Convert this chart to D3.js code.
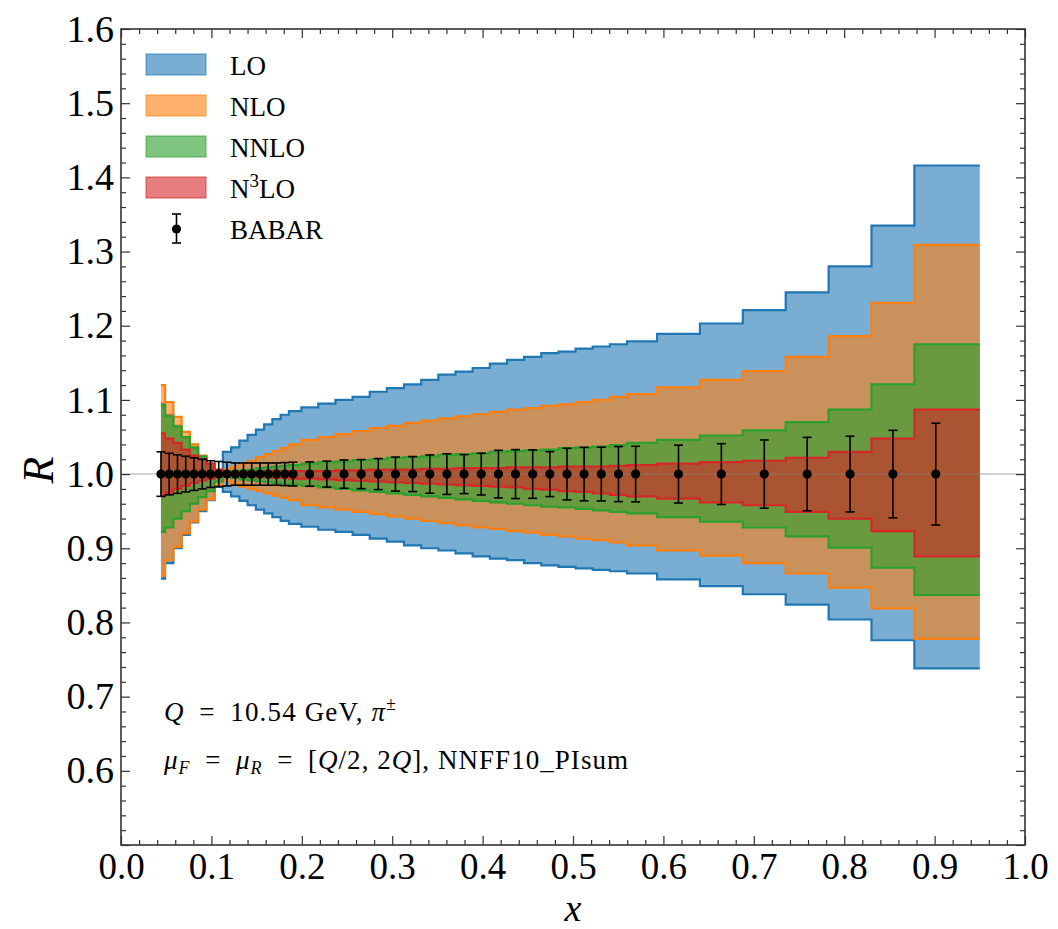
<!DOCTYPE html>
<html><head><meta charset="utf-8">
<script src="https://cdn.jsdelivr.net/npm/d3@7"></script>
<style>
body{margin:0;background:#fff;}
text{font-family:"Liberation Serif","DejaVu Serif",serif;fill:#000;}
</style>
</head><body><svg id="c" width="1058" height="929"></svg>
<script>
// ---------------- data ----------------
const xValues = [
  0.0442,0.0533,0.0625,0.0716,0.0807,0.0899,0.0990,0.1081,0.1172,0.1264,0.1355,0.1446,0.1538,0.1629,0.1720,0.1812,0.1903,
  0.2087,0.2277,0.2467,0.2657,0.2846,0.3036,0.3226,0.3416,0.3605,0.3795,0.3985,0.4175,0.4364,0.4554,0.4744,0.4934,0.5123,0.5313,0.5503,0.5693,
  0.6167,0.6641,0.7116,0.7590,0.8065,0.8539,0.9013
];
const bandEnd = 0.95;
const babarR = [
  1,1,1,1,1,1,1,1,1,1,1,1,1,1,1,1,1,
  1,1,1,1,1,1,1,1,1,1,1,1,1,1,1,1,1,1,1,1,
  1,1,1,1,1,1,1
];
const babarErr = [
  0.030,0.028,0.026,0.024,0.022,0.020,0.018,0.017,0.016,0.015,0.015,0.015,0.015,0.015,0.015,0.0155,0.016,
  0.0164,0.0175,0.0191,0.0196,0.0209,0.0229,0.0236,0.0258,0.0274,0.0263,0.0281,0.0321,0.0330,0.0326,0.0303,0.0348,0.0360,0.0362,0.0371,0.0375,
  0.039,0.041,0.046,0.0495,0.051,0.059,0.0686
];
const loUp = [
  1.095,1.080,1.065,1.050,1.035,1.022,1.012,1.004,1.030,1.036,1.045,1.053,1.060,1.067,1.074,1.080,1.085,
  1.090,1.095,1.100,1.104,1.111,1.116,1.121,1.127,1.134,1.138,1.143,1.149,1.154,1.158,1.163,1.165,1.169,1.172,1.175,1.179,
  1.189,1.203,1.221,1.245,1.280,1.335,1.416
];
const loDn = [
  0.859,0.880,0.900,0.918,0.935,0.950,0.965,0.983,0.976,0.970,0.964,0.958,0.952,0.947,0.942,0.937,0.933,
  0.929,0.925,0.922,0.918,0.913,0.909,0.904,0.900,0.897,0.893,0.889,0.886,0.884,0.880,0.877,0.875,0.873,0.871,0.869,0.866,
  0.858,0.849,0.838,0.824,0.804,0.776,0.738
];
const nloUp = [
  1.120,1.097,1.077,1.057,1.040,1.025,1.012,1.004,1.006,1.010,1.014,1.018,1.023,1.027,1.031,1.035,1.040,
  1.046,1.050,1.054,1.058,1.062,1.065,1.069,1.072,1.075,1.078,1.081,1.084,1.087,1.089,1.092,1.094,1.097,1.100,1.104,1.108,
  1.117,1.127,1.139,1.158,1.186,1.231,1.309
];
const nloDn = [
  0.863,0.884,0.902,0.920,0.936,0.952,0.966,0.985,0.991,0.987,0.983,0.980,0.977,0.974,0.971,0.968,0.965,
  0.958,0.955,0.952,0.949,0.946,0.943,0.940,0.937,0.934,0.931,0.928,0.926,0.923,0.921,0.918,0.916,0.913,0.911,0.908,0.904,
  0.897,0.890,0.880,0.866,0.847,0.819,0.778
];
const nnloUp = [
  1.093,1.078,1.064,1.050,1.036,1.024,1.014,1.005,1.003,1.004,1.005,1.006,1.008,1.009,1.010,1.011,1.012,
  1.014,1.016,1.017,1.019,1.020,1.022,1.023,1.024,1.026,1.027,1.028,1.030,1.031,1.032,1.033,1.035,1.036,1.037,1.039,1.042,
  1.046,1.052,1.059,1.070,1.087,1.121,1.175
];
const nnloDn = [
  0.922,0.928,0.940,0.950,0.960,0.969,0.977,0.990,0.997,0.995,0.993,0.992,0.990,0.989,0.988,0.987,0.986,
  0.984,0.982,0.980,0.978,0.976,0.974,0.972,0.970,0.968,0.966,0.964,0.962,0.960,0.958,0.956,0.955,0.953,0.951,0.949,0.947,
  0.942,0.936,0.928,0.916,0.901,0.874,0.837
];
const n3loUp = [
  1.055,1.048,1.042,1.033,1.025,1.020,1.014,1.006,1.002,1.002,1.003,1.003,1.003,1.004,1.004,1.004,1.004,
  1.004,1.004,1.005,1.005,1.006,1.006,1.006,1.007,1.007,1.008,1.008,1.008,1.009,1.009,1.009,1.010,1.010,1.010,1.011,1.012,
  1.014,1.016,1.018,1.022,1.030,1.048,1.087
];
const n3loDn = [
  0.970,0.975,0.980,0.984,0.988,0.991,0.994,0.997,0.999,0.998,0.997,0.997,0.996,0.996,0.995,0.995,0.994,
  0.994,0.993,0.992,0.991,0.990,0.989,0.988,0.987,0.986,0.985,0.984,0.983,0.982,0.980,0.979,0.977,0.976,0.974,0.972,0.970,
  0.967,0.962,0.958,0.949,0.940,0.923,0.889
];
const bandNames = ["LO","NLO","NNLO","N3LO"];
const bandColors = ["#1f77b4","#ff7f0e","#2ca02c","#d62728"];
const xTickLabels = ["0.0","0.1","0.2","0.3","0.4","0.5","0.6","0.7","0.8","0.9","1.0"];
const yTickLabels = ["0.6","0.7","0.8","0.9","1.0","1.1","1.2","1.3","1.4","1.5","1.6"];

// ---------------- layout ----------------
const M = {l:121, r:1025, t:29, b:845};
const x = d3.scaleLinear().domain([0,1]).range([M.l,M.r]);
const y = d3.scaleLinear().domain([0.5,1.6]).range([M.b,M.t]);
const svg = d3.select('#c');

svg.append('defs').append('clipPath').attr('id','clip')
  .append('rect').attr('x',M.l).attr('y',M.t).attr('width',M.r-M.l).attr('height',M.b-M.t);
const plot = svg.append('g').attr('clip-path','url(#clip)');

const n = xValues.length;
const edges = [xValues[0]];
for (let i=1;i<n;i++) edges.push((xValues[i-1]+xValues[i])/2);
edges.push(bandEnd);

const bandUps = [loUp,nloUp,nnloUp,n3loUp];
const bandDns = [loDn,nloDn,nnloDn,n3loDn];

const area = d3.area().curve(d3.curveStepAfter)
  .x(d=>x(d.x)).y0(d=>y(d.dn)).y1(d=>y(d.up));
const lineUp = d3.line().curve(d3.curveStepAfter).x(d=>x(d.x)).y(d=>y(d.up));
const lineDn = d3.line().curve(d3.curveStepAfter).x(d=>x(d.x)).y(d=>y(d.dn));

bandNames.forEach((nm,k)=>{
  const pts = edges.map((e,i)=>({x:e, up:bandUps[k][Math.min(i,n-1)], dn:bandDns[k][Math.min(i,n-1)]}));
  plot.append('path').attr('d',area(pts)).attr('fill',bandColors[k]).attr('fill-opacity',0.6).attr('stroke','none');
  plot.append('path').attr('d',lineUp(pts)).attr('fill','none').attr('stroke',bandColors[k]).attr('stroke-width',2.2);
  plot.append('path').attr('d',lineDn(pts)).attr('fill','none').attr('stroke',bandColors[k]).attr('stroke-width',2.2);
});

// reference line at 1
plot.append('line').attr('x1',x(0)).attr('x2',x(1)).attr('y1',y(1)).attr('y2',y(1))
  .attr('stroke','#808080').attr('stroke-opacity',0.35).attr('stroke-width',2);

// BABAR points
const pg = plot.append('g');
xValues.forEach((xv,i)=>{
  const cx = x(xv), yt = y(babarR[i]+babarErr[i]), yb = y(babarR[i]-babarErr[i]);
  pg.append('line').attr('x1',cx).attr('x2',cx).attr('y1',yt).attr('y2',yb).attr('stroke','#000').attr('stroke-width',1.6);
  pg.append('line').attr('x1',cx-4.5).attr('x2',cx+4.5).attr('y1',yt).attr('y2',yt).attr('stroke','#000').attr('stroke-width',1.6);
  pg.append('line').attr('x1',cx-4.5).attr('x2',cx+4.5).attr('y1',yb).attr('y2',yb).attr('stroke','#000').attr('stroke-width',1.6);
  pg.append('circle').attr('cx',cx).attr('cy',y(babarR[i])).attr('r',4.6).attr('fill','#000');
});

// ---------------- axes ----------------
const frameColor = '#333';
const majX = xTickLabels.map(Number);
const minX = d3.range(0,51).map(i=>i/50).filter(v=>Math.abs(v*10-Math.round(v*10))>1e-6);
const majY = [0.5].concat(yTickLabels.map(Number));
const minY = d3.range(25,81).map(i=>i/50).filter(v=>Math.abs(v*10-Math.round(v*10))>1e-6);

function styleAxis(g){ g.select('.domain').remove(); g.selectAll('line').attr('stroke',frameColor).attr('stroke-width',1.2); }

const xb = svg.append('g').attr('transform',`translate(0,${M.b})`)
  .call(d3.axisBottom(x).tickValues(majX).tickFormat((d,i)=>xTickLabels[i]).tickSize(-9).tickPadding(8));
styleAxis(xb);
xb.selectAll('text').attr('font-size',37).attr('dy','0.71em').attr('font-family','"Liberation Serif",serif').attr('fill','#000');
svg.append('g').attr('transform',`translate(0,${M.b})`)
  .call(d3.axisBottom(x).tickValues(minX).tickFormat('').tickSize(-5)).call(styleAxis);
svg.append('g').attr('transform',`translate(0,${M.t})`)
  .call(d3.axisTop(x).tickValues(majX).tickFormat('').tickSize(-9)).call(styleAxis);
svg.append('g').attr('transform',`translate(0,${M.t})`)
  .call(d3.axisTop(x).tickValues(minX).tickFormat('').tickSize(-5)).call(styleAxis);

const yl = svg.append('g').attr('transform',`translate(${M.l},0)`)
  .call(d3.axisLeft(y).tickValues(majY).tickFormat(d=>{const i=yTickLabels.indexOf(d.toFixed(1));return i>=0?yTickLabels[i]:'';}).tickSize(-9).tickPadding(7));
styleAxis(yl);
yl.selectAll('text').attr('font-size',38).attr('font-family','"Liberation Serif",serif').attr('fill','#000');
svg.append('g').attr('transform',`translate(${M.l},0)`)
  .call(d3.axisLeft(y).tickValues(minY).tickFormat('').tickSize(-5)).call(styleAxis);
svg.append('g').attr('transform',`translate(${M.r},0)`)
  .call(d3.axisRight(y).tickValues(majY).tickFormat('').tickSize(-9)).call(styleAxis);
svg.append('g').attr('transform',`translate(${M.r},0)`)
  .call(d3.axisRight(y).tickValues(minY).tickFormat('').tickSize(-5)).call(styleAxis);

svg.append('rect').attr('x',M.l).attr('y',M.t).attr('width',M.r-M.l).attr('height',M.b-M.t)
  .attr('fill','none').attr('stroke',frameColor).attr('stroke-width',1.6);

// axis labels
svg.append('text').attr('transform','translate(53,470) rotate(-90)').attr('text-anchor','middle')
  .attr('font-size',44).attr('font-style','italic').text('R');
svg.append('text').attr('x',x(0.5)).attr('y',921).attr('text-anchor','middle')
  .attr('font-size',38).attr('font-style','italic').text('x');

// ---------------- legend ----------------
const lg = svg.append('g');
const legY = [54,95,136,177];
bandNames.forEach((nm,k)=>{
  lg.append('rect').attr('x',146).attr('y',legY[k]).attr('width',60).attr('height',21)
    .attr('fill',bandColors[k]).attr('fill-opacity',0.6)
    .attr('stroke',bandColors[k]).attr('stroke-opacity',0.6).attr('stroke-width',1.2);
  const t = lg.append('text').attr('x',230).attr('y',legY[k]+21).attr('font-size',27);
  if (nm==='N3LO'){
    t.append('tspan').text('N');
    t.append('tspan').attr('font-size',19).attr('dy',-11).text('3');
    t.append('tspan').attr('dy',11).text('LO');
  } else t.text(nm);
});
// BABAR legend entry
const bx=176.5, by=229;
lg.append('line').attr('x1',bx).attr('x2',bx).attr('y1',by-15).attr('y2',by+14).attr('stroke','#000').attr('stroke-width',1.6);
lg.append('line').attr('x1',bx-4.5).attr('x2',bx+4.5).attr('y1',by-15).attr('y2',by-15).attr('stroke','#000').attr('stroke-width',1.6);
lg.append('line').attr('x1',bx-4.5).attr('x2',bx+4.5).attr('y1',by+14).attr('y2',by+14).attr('stroke','#000').attr('stroke-width',1.6);
lg.append('circle').attr('cx',bx).attr('cy',by).attr('r',4.6).attr('fill','#000');
lg.append('text').attr('x',230).attr('y',239).attr('font-size',27).text('BABAR');

// ---------------- annotations ----------------
const a1 = svg.append('text').attr('x',164).attr('y',721).attr('font-size',27)
  .attr('textLength',232).attr('lengthAdjust','spacing');
a1.append('tspan').attr('font-style','italic').text('Q');
a1.append('tspan').text('\u2002=\u200210.54 GeV, ');
a1.append('tspan').attr('font-style','italic').text('π');
a1.append('tspan').attr('font-size',18).attr('dy',-11).text('±');

const a2 = svg.append('text').attr('x',164).attr('y',769).attr('font-size',27)
  .attr('textLength',464).attr('lengthAdjust','spacing');
a2.append('tspan').attr('font-style','italic').text('μ');
a2.append('tspan').attr('font-style','italic').attr('font-size',18).attr('dy',5).text('F');
a2.append('tspan').attr('dy',-5).text('\u2002=\u2002');
a2.append('tspan').attr('font-style','italic').text('μ');
a2.append('tspan').attr('font-style','italic').attr('font-size',18).attr('dy',5).text('R');
a2.append('tspan').attr('dy',-5).text('\u2002=\u2002[');
a2.append('tspan').attr('font-style','italic').text('Q');
a2.append('tspan').text('/2, 2');
a2.append('tspan').attr('font-style','italic').text('Q');
a2.append('tspan').text('], NNFF10_PIsum');
</script>
</body></html>
